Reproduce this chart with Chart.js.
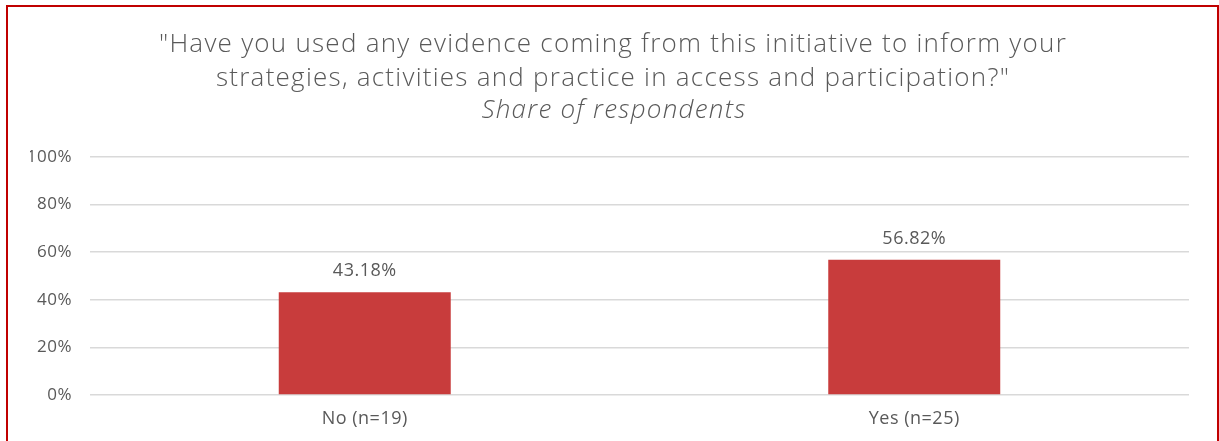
<!DOCTYPE html>
<html>
<head>
<meta charset="utf-8">
<script src="https://cdn.jsdelivr.net/npm/chart.js@4/dist/chart.umd.min.js"></script>
<style>
  html, body { margin: 0; padding: 0; background: #fff; }
  #wrap { position: relative; width: 1219px; height: 441px; overflow: hidden; }
  #frame {
    position: absolute; left: 6px; top: 5px; width: 1209px; height: 460px;
    border: 2px solid #c00000; pointer-events: none;
  }
</style>
</head>
<body>
<div id="wrap">
  <canvas id="chart" width="1219" height="441"></canvas>
  <div id="frame"></div>
</div>
<script>
// data
const categories = ['No (n=19)', 'Yes (n=25)'];
const shares = [43.18, 56.82];
const yTicks = [0, 20, 40, 60, 80, 100];

const titleLines = [
    '"Have you used any evidence coming from this initiative to inform your',
    'strategies, activities and practice in access and participation?"'
];
const subtitleText = 'Share of respondents';

const FONT = "'Open Sans', 'DejaVu Sans', sans-serif";
const GREY = '#595959';

// wide, light title (Chart.js title can't do letter spacing, so draw it here)
const wideTitle = {
    id: 'wideTitle',
    beforeDraw(chart) {
        const ctx = chart.ctx;
        ctx.save();
        ctx.fillStyle = GREY;
        ctx.textAlign = 'center';
        ctx.textBaseline = 'alphabetic';
        ctx.letterSpacing = '1.25px';
        ctx.font = '300 26px ' + FONT;
        ctx.fillText(titleLines[0], 613, 52);
        ctx.fillText(titleLines[1], 613, 86);
        ctx.font = 'italic 300 26px ' + FONT;
        ctx.fillText(subtitleText, 614, 118);
        ctx.restore();
        // slight widening for the axis labels too
        ctx.letterSpacing = '0.5px';
    }
};

// value labels above bars
const valueLabels = {
    id: 'valueLabels',
    afterDatasetsDraw(chart) {
        const ctx = chart.ctx;
        const meta = chart.getDatasetMeta(0);
        ctx.save();
        ctx.font = '18px ' + FONT;
        ctx.fillStyle = GREY;
        ctx.textAlign = 'center';
        ctx.textBaseline = 'middle';
        meta.data.forEach((bar, i) => {
            ctx.fillText(shares[i].toFixed(2) + '%', bar.x, bar.y - 21);
        });
        ctx.restore();
    }
};

const ctx = document.getElementById('chart').getContext('2d');
new Chart(ctx, {
    type: 'bar',
    data: {
        labels: categories,
        datasets: [{
            data: shares,
            backgroundColor: '#c83c3c',
            borderWidth: 0,
            categoryPercentage: 1,
            barPercentage: 0.313
        }]
    },
    options: {
        responsive: false,
        animation: false,
        layout: { padding: { left: 30, right: 30, top: 157, bottom: 0 } },
        plugins: {
            legend: { display: false },
            tooltip: { enabled: false },
            title: { display: false }
        },
        scales: {
            x: {
                grid: { display: false, drawTicks: false },
                border: { display: false },
                ticks: { color: GREY, font: { family: FONT, size: 18 }, padding: 13 },
                afterFit(scale) { scale.height = 46; }
            },
            y: {
                min: 0,
                max: 100,
                afterBuildTicks(scale) { scale.ticks = yTicks.map(v => ({ value: v })); },
                grid: { color: '#d9d9d9', lineWidth: 1.5, drawTicks: false },
                border: { display: false },
                ticks: {
                    color: GREY,
                    font: { family: FONT, size: 17 },
                    padding: 18,
                    callback: v => v + '%'
                },
                afterFit(scale) { scale.width = 60; }
            }
        }
    },
    plugins: [wideTitle, valueLabels]
});
</script>
</body>
</html>
